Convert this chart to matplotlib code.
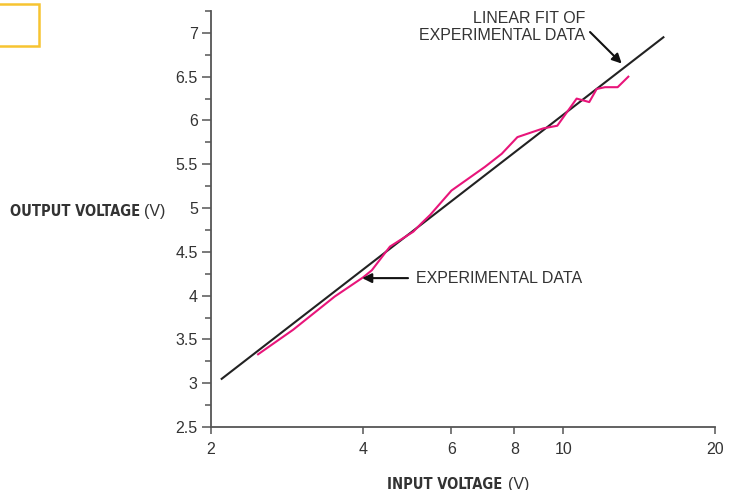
import matplotlib

matplotlib.use("Agg")
import matplotlib.pyplot as plt
from matplotlib.patches import Rectangle
from matplotlib.ticker import FixedLocator, NullLocator

input_v = [2.48, 2.91, 3.52, 4.01, 4.17, 4.53, 5.04, 5.24, 5.44, 6.0,
           6.99, 7.55, 8.11, 9.13, 9.73, 10.63, 11.26, 11.65, 12.1, 12.82, 13.46]
output_v = [3.33, 3.61, 3.99, 4.21, 4.29, 4.56, 4.73, 4.83, 4.92, 5.20,
            5.47, 5.62, 5.81, 5.91, 5.94, 6.25, 6.21, 6.36, 6.38, 6.38, 6.50]

# linear fit (straight on the log axis), end points
fit_x = [2.1, 15.8]
fit_y = [3.05, 6.95]

x_ticks = [2, 4, 6, 8, 10, 20]
x_tick_labels = ["2", "4", "6", "8", "10", "20"]
y_ticks = [2.5, 3, 3.5, 4, 4.5, 5, 5.5, 6, 6.5, 7]
y_tick_labels = ["2.5", "3", "3.5", "4", "4.5", "5", "5.5", "6", "6.5", "7"]
y_minor = [2.75, 3.25, 3.75, 4.25, 4.75, 5.25, 5.75, 6.25, 6.75, 7.25]

TEXT = "#333333"
AXIS = "#555555"
PINK = "#e8157a"

plt.rcParams["font.family"] = ["Liberation Sans", "DejaVu Sans"]

fig = plt.figure(figsize=(7.29, 4.90), dpi=100)
ax = fig.add_axes([211 / 729, 63 / 490, 504 / 729, 416 / 490])

ax.plot(fit_x, fit_y, color="#222222", linewidth=1.5)
ax.plot(input_v, output_v, color=PINK, linewidth=1.5)

ax.set_xscale("log")
ax.set_xlim(2, 20)
ax.set_ylim(2.5, 7.25)

ax.xaxis.set_major_locator(FixedLocator(x_ticks))
ax.xaxis.set_minor_locator(NullLocator())
ax.set_xticklabels(x_tick_labels)
ax.set_yticks(y_ticks)
ax.set_yticklabels(y_tick_labels)
ax.yaxis.set_minor_locator(FixedLocator(y_minor))

for side in ["top", "right"]:
    ax.spines[side].set_visible(False)
for side in ["left", "bottom"]:
    ax.spines[side].set_color(AXIS)
    ax.spines[side].set_linewidth(1.3)

ax.tick_params(axis="x", which="major", direction="out", length=5, width=1.1,
               color=AXIS, labelcolor=TEXT, labelsize=11.5, pad=6)
ax.tick_params(axis="y", which="major", direction="out", length=6.5, width=1.1,
               color=AXIS, labelcolor=TEXT, labelsize=11.5, pad=3)
ax.tick_params(axis="y", which="minor", direction="out", length=4.5, width=1.1,
               color=AXIS)

# annotations
ax.annotate("", xy=(3.99, 4.20), xytext=(4.92, 4.20),
            arrowprops=dict(arrowstyle="-|>", color="#111111", lw=1.5,
                            mutation_scale=14, shrinkA=0, shrinkB=0))
ax.text(5.1, 4.20, "EXPERIMENTAL DATA", color=TEXT, fontsize=11.5,
        ha="left", va="center")

ax.annotate("", xy=(13.06, 6.65), xytext=(11.3, 7.01),
            arrowprops=dict(arrowstyle="-|>", color="#111111", lw=1.5,
                            mutation_scale=14, shrinkA=0, shrinkB=0))
ax.text(11.05, 7.07, "LINEAR FIT OF\nEXPERIMENTAL DATA", color=TEXT,
        fontsize=11.5, ha="right", va="center", multialignment="right",
        linespacing=1.2)

# axis titles: bold condensed part + regular unit
label_style = dict(family="DejaVu Sans", fontstretch="condensed",
                   fontweight="bold", fontsize=10.5, color=TEXT, va="center")
fig.text(140 / 729, 1 - 211 / 490, "OUTPUT VOLTAGE", ha="right", **label_style)
fig.text(144 / 729, 1 - 211 / 490, "(V)", fontsize=11.5, color=TEXT,
         ha="left", va="center")
fig.text(502 / 729, 1 - 484 / 490, "INPUT VOLTAGE", ha="right", **label_style)
fig.text(508 / 729, 1 - 484 / 490, "(V)", fontsize=11.5, color=TEXT,
         ha="left", va="center")

# yellow corner frame
fig.patches.append(Rectangle((-2 / 729, 1 - 46 / 490), 41 / 729, 42 / 490,
                             transform=fig.transFigure, fill=False,
                             edgecolor="#f7c431", linewidth=1.8))

fig.savefig("out.png", dpi=100)
